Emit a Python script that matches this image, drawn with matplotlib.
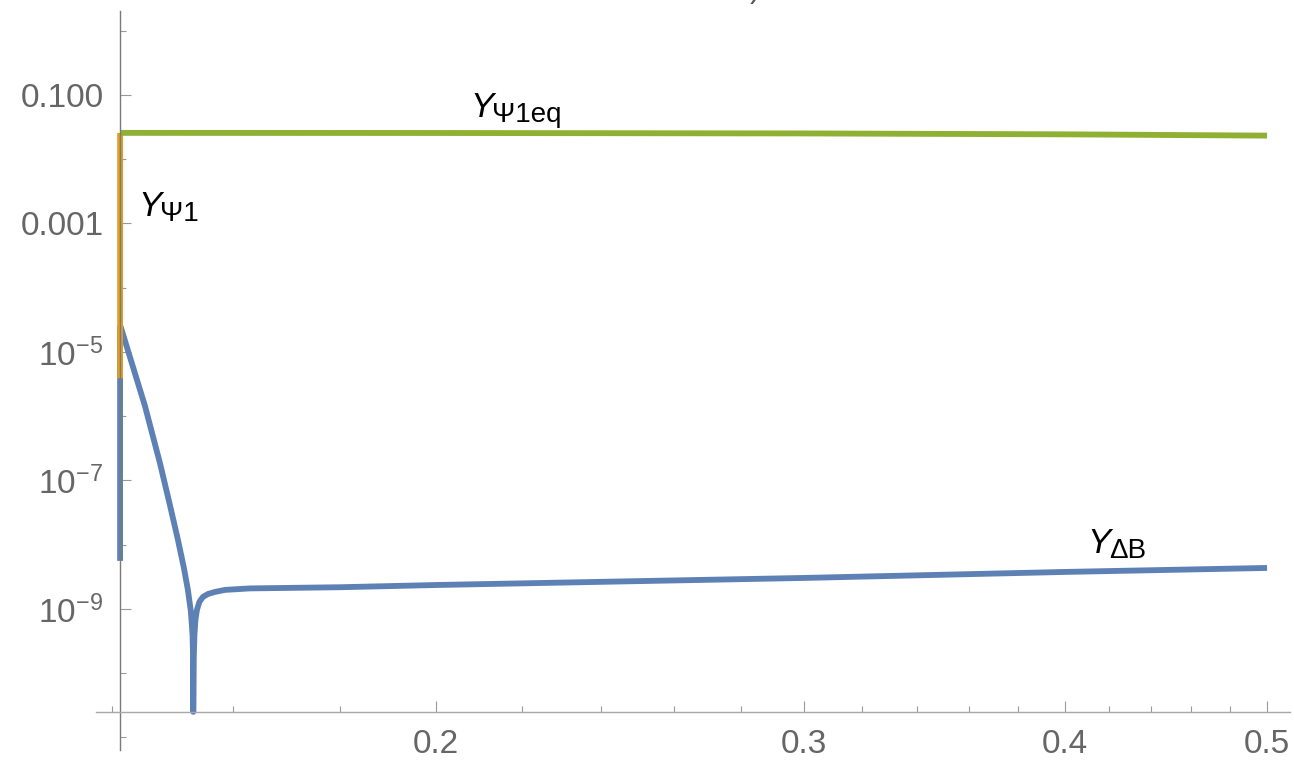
import matplotlib
matplotlib.use("Agg")
import matplotlib.pyplot as plt
from matplotlib.ticker import FixedLocator, FixedFormatter, NullFormatter

# data (log-log plot)
x0 = 0.1412
y_cross = 2.5e-11

green_x = [0.1412, 0.2, 0.3, 0.4, 0.5]
green_y = [0.0257, 0.0256, 0.0252, 0.0244, 0.0233]

orange_x = [0.1412, 0.14121]
orange_y = [3.9e-6, 0.0257]

blue_x = [0.1412, 0.1412, 0.1413, 0.14512, 0.14754, 0.14917, 0.15050, 0.15149,
          0.15216, 0.15267, 0.15294, 0.15304, 0.15306,
          0.15314, 0.15326, 0.15343, 0.15368, 0.15410, 0.15470, 0.15556,
          0.15676, 0.15850, 0.16292, 0.18, 0.2, 0.3, 0.4, 0.5]
blue_y = [5.6e-9, 2.45e-5, 2.45e-5, 1.45e-6, 1.87e-7, 4.16e-8, 1.19e-8, 4.35e-9,
          1.98e-9, 8.98e-10, 3.94e-10, 1.61e-10, 2.5e-11,
          1.61e-10, 3.94e-10, 6.75e-10, 9.65e-10, 1.29e-9, 1.54e-9, 1.71e-9,
          1.84e-9, 1.98e-9, 2.09e-9, 2.18e-9, 2.36e-9, 3.04e-9, 3.77e-9, 4.35e-9]

y_major = [1e-1, 1e-3, 1e-5, 1e-7, 1e-9]
y_labels = ["0.100", "0.001", r"$10^{-5}$", r"$10^{-7}$", r"$10^{-9}$"]
y_minor = [1e0, 1e-2, 1e-4, 1e-6, 1e-8, 1e-10, 1e-11]

x_major = [0.2, 0.3, 0.4, 0.5]
x_labels = ["0.2", "0.3", "0.4", "0.5"]
x_minor = [0.14, 0.16, 0.18, 0.22, 0.24, 0.26, 0.28, 0.32, 0.34, 0.36, 0.38,
           0.42, 0.44, 0.46, 0.48]

plt.rcParams['font.family'] = ['Liberation Sans', 'DejaVu Sans']
plt.rcParams['mathtext.fontset'] = 'custom'
plt.rcParams['mathtext.rm'] = 'Liberation Sans'
plt.rcParams['mathtext.it'] = 'Liberation Sans:italic'
plt.rcParams['mathtext.bf'] = 'Liberation Sans:bold'

fig = plt.figure(figsize=(12.94, 7.62), dpi=100)
ax = fig.add_axes([96 / 1294, 1 - 750 / 762, (1290 - 96) / 1294, (750 - 11) / 762])
ax.set_xscale('log')
ax.set_yscale('log')
ax.set_xlim(0.1375, 0.5128)
ax.set_ylim(10 ** -11.195, 10 ** 0.307)

blue = '#5E81B5'
orange = '#E19C24'
green = '#8FB032'
lw = 4.2
ax.plot(blue_x, blue_y, color=blue, lw=lw, solid_capstyle='butt', solid_joinstyle='round')
ax.plot(orange_x, orange_y, color=orange, lw=lw, solid_capstyle='butt')
ax.plot(green_x, green_y, color=green, lw=lw, solid_capstyle='butt')

# Mathematica-style crossing axes
for s in ['top', 'right']:
    ax.spines[s].set_visible(False)
ax.spines['left'].set_position(('data', x0))
ax.spines['bottom'].set_position(('data', y_cross))
ax.spines['left'].set_color('#7a7a7a')
ax.spines['bottom'].set_color('#a8a8a8')
ax.spines['left'].set_linewidth(1.0)
ax.spines['bottom'].set_linewidth(1.0)

ax.yaxis.set_major_locator(FixedLocator(y_major))
ax.yaxis.set_major_formatter(FixedFormatter(y_labels))
ax.yaxis.set_minor_locator(FixedLocator(y_minor))
ax.yaxis.set_minor_formatter(NullFormatter())
ax.xaxis.set_major_locator(FixedLocator(x_major))
ax.xaxis.set_major_formatter(FixedFormatter(x_labels))
ax.xaxis.set_minor_locator(FixedLocator(x_minor))
ax.xaxis.set_minor_formatter(NullFormatter())

ax.tick_params(axis='y', which='major', direction='in', length=8, width=0.8,
               color='#999999', labelsize=24, labelcolor='#666666', pad=12)
ax.tick_params(axis='y', which='minor', direction='in', length=4.5, width=0.8,
               color='#999999')
ax.tick_params(axis='x', which='major', direction='in', length=8, width=0.8,
               color='#999999', labelsize=24, labelcolor='#666666', pad=12)
ax.tick_params(axis='x', which='minor', direction='in', length=4.5, width=0.8,
               color='#999999')


def curve_label(x, y, sub):
    # italic Y with a large upright subscript, as in the reference
    ax.text(x, y, 'Y', fontsize=25, style='italic', ha='left', va='baseline')
    ax.annotate(sub, (x, y), xytext=(16, -3.5), textcoords='offset points',
                fontsize=20, ha='left', va='baseline')


curve_label(0.2077, 0.0455, '\u03a81eq')
curve_label(0.1440, 1.285e-3, '\u03a81')
curve_label(0.410, 7.45e-9, '\u0394B')

# fragment of a cut-off title at the top edge
fig.text(0.5835, 1.004, ')', fontsize=22, color='#555555', ha='center', va='baseline')

fig.savefig('out.png', dpi=100)
